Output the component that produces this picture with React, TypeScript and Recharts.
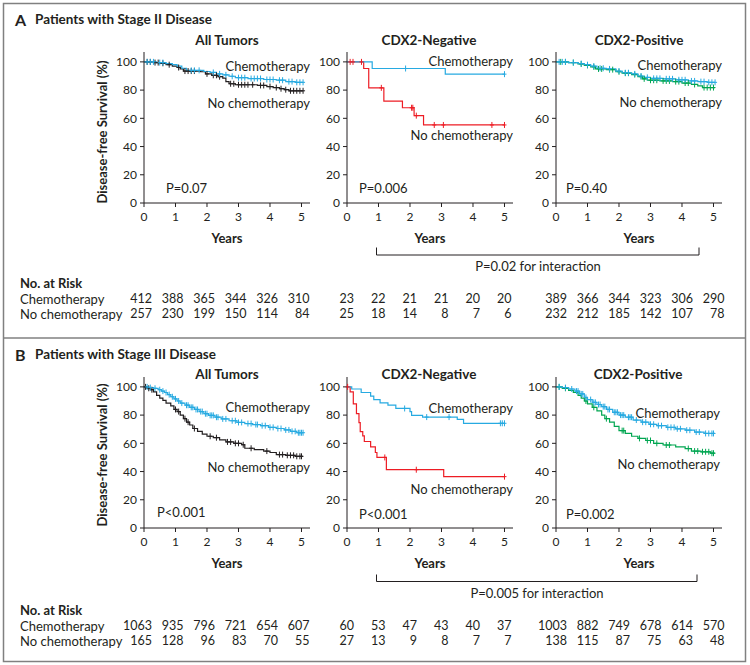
import React from 'react';
import { ComposedChart, Line, Scatter, XAxis, YAxis } from 'recharts';

type Pt = [number, number];

const yearTicks = [0, 1, 2, 3, 4, 5];
const survTicks = [0, 20, 40, 60, 80, 100];

// ---------- Stage II ----------
const a2AllChemo: Pt[] = [[0, 100], [0.4, 99.5], [0.7, 98.8], [0.9, 98], [1.05, 97], [1.2, 95.5], [1.35, 94], [1.9, 93.2], [2.1, 92.5], [2.3, 91.5], [2.5, 90.8], [2.7, 89.8], [2.9, 88.8], [3.3, 88.2], [3.8, 87.5], [4.2, 87], [4.5, 86], [4.8, 85.5], [5.05, 85.5]];
const a2AllChemoCens: Pt[] = [[0.1, 100], [0.2, 100], [0.3, 100], [0.5, 99.5], [0.6, 99.5], [1.5, 94], [1.6, 94], [1.75, 94], [2.2, 92.5], [2.4, 91.5], [2.6, 90.8], [2.8, 89.8], [3.0, 88.8], [3.1, 88.8], [3.2, 88.8], [3.4, 88.2], [3.5, 88.2], [3.6, 88.2], [3.7, 88.2], [3.9, 87.5], [4.0, 87.5], [4.1, 87.5], [4.3, 87], [4.4, 87], [4.6, 86], [4.7, 86], [4.85, 85.5], [4.95, 85.5], [5.05, 85.5]];
const a2AllNone: Pt[] = [[0, 100], [0.3, 99.5], [0.5, 99], [0.7, 98], [0.9, 97], [1.05, 96], [1.15, 95], [1.25, 93.5], [1.8, 93], [1.95, 91.5], [2.15, 90.5], [2.35, 89.5], [2.5, 88.5], [2.6, 86], [2.7, 84.5], [2.9, 83.8], [3.6, 83.3], [3.9, 82.5], [4.1, 81.8], [4.3, 81], [4.45, 80.3], [4.6, 79.5], [5.05, 79.5]];
const a2AllNoneCens: Pt[] = [[0.1, 100], [0.2, 100], [0.35, 99.5], [0.45, 99.5], [0.6, 99], [0.8, 98], [1.1, 96], [1.3, 93.5], [1.4, 93.5], [1.5, 93.5], [1.6, 93.5], [2.0, 91.5], [2.2, 90.5], [2.3, 90.5], [2.4, 89.5], [2.75, 84.5], [2.85, 84.5], [3.0, 83.8], [3.1, 83.8], [3.2, 83.8], [3.3, 83.8], [3.45, 83.8], [3.7, 83.3], [3.8, 83.3], [4.0, 82.5], [4.2, 81.8], [4.35, 81], [4.5, 80.3], [4.65, 79.5], [4.75, 79.5], [4.85, 79.5], [4.95, 79.5], [5.05, 79.5]];

const a2NegChemo: Pt[] = [[0, 100], [0.8, 95.3], [3.12, 91.3], [5, 91.3]];
const a2NegChemoCens: Pt[] = [[1.86, 95.3], [5, 91.3]];
const a2NegNone: Pt[] = [[0, 100], [0.53, 95.3], [0.69, 81.6], [1.17, 72.2], [1.76, 67.5], [2.13, 61.9], [2.43, 55.3], [5, 55.3]];
const a2NegNoneCens: Pt[] = [[0.1, 100], [0.19, 100], [0.46, 100], [1.09, 81.6], [2.05, 67.5], [2.09, 67.5], [2.2, 61.9], [2.77, 55.3], [3.06, 55.3], [4.6, 55.3], [5, 55.3]];

const a2PosChemo: Pt[] = [[0, 100], [0.4, 99.5], [0.7, 98.8], [0.9, 98], [1.1, 97], [1.3, 95.5], [1.6, 95], [1.9, 93.5], [2.1, 92.3], [2.4, 91.5], [2.6, 90], [2.8, 89], [3.0, 88.3], [3.4, 88], [3.8, 87.3], [4.2, 86.5], [4.5, 86], [4.8, 85.5], [5.05, 85.5]];
const a2PosChemoCens: Pt[] = [[0.1, 100], [0.2, 100], [0.3, 100], [0.55, 99.5], [0.8, 98.8], [1.0, 98], [1.2, 97], [1.4, 95.5], [1.5, 95.5], [1.7, 95], [2.0, 93.5], [2.2, 92.3], [2.3, 92.3], [2.5, 91.5], [2.7, 90], [2.9, 89], [3.1, 88.3], [3.2, 88.3], [3.3, 88.3], [3.5, 88], [3.6, 88], [3.7, 88], [3.9, 87.3], [4.0, 87.3], [4.1, 87.3], [4.3, 86.5], [4.4, 86.5], [4.6, 86], [4.7, 86], [4.85, 85.5], [4.95, 85.5], [5.05, 85.5]];
const a2PosNone: Pt[] = [[0, 100], [0.4, 99.5], [0.7, 98.5], [0.9, 97.5], [1.1, 96.5], [1.25, 95], [1.6, 94.5], [1.9, 93], [2.1, 92], [2.4, 91], [2.6, 89.5], [2.75, 88], [2.9, 87], [3.3, 86.5], [3.7, 86], [4.0, 85], [4.3, 84], [4.5, 83], [4.65, 81.8], [5.05, 81.8]];
const a2PosNoneCens: Pt[] = [[0.15, 100], [0.3, 100], [0.55, 99.5], [0.8, 98.5], [1.0, 97.5], [1.2, 96.5], [1.35, 95], [1.45, 95], [1.7, 94.5], [1.8, 94.5], [2.0, 93], [2.2, 92], [2.3, 92], [2.5, 91], [2.7, 89.5], [2.8, 88], [3.0, 87], [3.1, 87], [3.2, 87], [3.4, 86.5], [3.5, 86.5], [3.6, 86.5], [3.8, 86], [3.9, 86], [4.1, 85], [4.2, 85], [4.4, 84], [4.7, 81.8], [4.8, 81.8], [4.9, 81.8], [5.0, 81.8]];

const a2RiskAllChemo = [412, 388, 365, 344, 326, 310];
const a2RiskAllNone = [257, 230, 199, 150, 114, 84];
const a2RiskNegChemo = [23, 22, 21, 21, 20, 20];
const a2RiskNegNone = [25, 18, 14, 8, 7, 6];
const a2RiskPosChemo = [389, 366, 344, 323, 306, 290];
const a2RiskPosNone = [232, 212, 185, 142, 107, 78];

// ---------- Stage III ----------
const b3AllChemo: Pt[] = [[0, 100], [0.15, 99.5], [0.3, 99], [0.45, 98], [0.55, 97], [0.65, 96], [0.75, 94.5], [0.85, 93], [0.95, 91.5], [1.05, 90], [1.15, 88.5], [1.3, 87], [1.45, 85.5], [1.6, 84], [1.75, 82.5], [1.9, 81], [2.05, 79.8], [2.25, 78.5], [2.45, 77.3], [2.7, 76], [2.95, 74.8], [3.2, 74], [3.45, 73.3], [3.7, 72.5], [3.95, 71.3], [4.2, 70.5], [4.45, 69.5], [4.65, 68.5], [4.85, 67.5], [5.05, 67.5]];
const b3AllChemoCens: Pt[] = [[0.1, 100], [0.2, 99.5], [0.35, 99], [0.5, 98], [0.6, 97], [0.7, 96], [0.8, 94.5], [0.9, 93], [1.0, 91.5], [1.1, 90], [1.2, 88.5], [1.35, 87], [1.4, 87], [1.5, 85.5], [1.55, 85.5], [1.65, 84], [1.7, 84], [1.8, 82.5], [1.85, 82.5], [1.95, 81], [2.0, 81], [2.1, 79.8], [2.15, 79.8], [2.2, 79.8], [2.3, 78.5], [2.35, 78.5], [2.5, 77.3], [2.6, 77.3], [2.8, 76], [2.9, 76], [3.0, 74.8], [3.1, 74.8], [3.3, 74], [3.4, 74], [3.55, 73.3], [3.6, 73.3], [3.75, 72.5], [3.85, 72.5], [4.0, 71.3], [4.1, 71.3], [4.25, 70.5], [4.35, 70.5], [4.5, 69.5], [4.6, 69.5], [4.7, 68.5], [4.8, 68.5], [4.9, 67.5], [4.95, 67.5], [5.0, 67.5], [5.05, 67.5]];
const b3AllNone: Pt[] = [[0, 100], [0.1, 99], [0.2, 98], [0.3, 96.5], [0.4, 94], [0.5, 92], [0.6, 90.5], [0.7, 88.5], [0.85, 86.5], [0.95, 84], [1.05, 82.5], [1.15, 80], [1.25, 77.5], [1.35, 75], [1.45, 73], [1.55, 70.5], [1.7, 68.5], [1.85, 66.5], [2.0, 65], [2.2, 64], [2.4, 62.5], [2.6, 61], [2.85, 60], [3.1, 59], [3.2, 56.5], [3.5, 55.5], [3.8, 54.5], [4.0, 53.5], [4.2, 52], [4.5, 51.5], [4.8, 50.8], [5.05, 50.8]];
const b3AllNoneCens: Pt[] = [[0.05, 100], [0.15, 99], [0.25, 98], [1.0, 84], [1.1, 82.5], [1.3, 77.5], [1.4, 75], [1.6, 70.5], [2.1, 65], [2.3, 64], [2.65, 61], [2.75, 61], [2.9, 60], [3.0, 60], [3.15, 59], [3.4, 56.5], [3.9, 54.5], [4.3, 52], [4.4, 52], [4.55, 51.5], [4.65, 51.5], [4.75, 51.5], [4.85, 50.8], [4.95, 50.8], [5.0, 50.8]];

const b3NegChemo: Pt[] = [[0, 100], [0.15, 98.5], [0.45, 96], [0.75, 93.5], [0.85, 91], [1.05, 88.7], [1.3, 87], [1.55, 84.7], [2.0, 82.4], [2.05, 79.8], [2.4, 78.6], [3.5, 77], [3.7, 74.2], [5, 74.2]];
const b3NegChemoCens: Pt[] = [[1.83, 84.7], [2.53, 78.6], [3.24, 78.6], [4.87, 74.2], [4.93, 74.2], [5.0, 74.2]];
const b3NegNone: Pt[] = [[0, 100], [0.1, 96.5], [0.2, 88], [0.3, 81], [0.38, 74.6], [0.42, 68.3], [0.5, 65.3], [0.55, 61.3], [0.75, 57.5], [0.9, 53.5], [0.95, 50], [1.25, 41.3], [3.07, 36.4], [5, 36.4]];
const b3NegNoneCens: Pt[] = [[0.02, 100], [1.2, 50], [2.2, 41.3], [5, 36.4]];

const b3PosChemo: Pt[] = [[0, 100], [0.2, 99.5], [0.4, 98.5], [0.6, 97], [0.75, 95], [0.9, 92.5], [1.0, 91], [1.15, 89], [1.3, 87.5], [1.45, 86], [1.6, 84], [1.8, 82], [2.0, 80], [2.2, 78.5], [2.45, 76.5], [2.7, 75], [2.95, 73.5], [3.2, 72.5], [3.5, 71.3], [3.8, 70.3], [4.1, 69.3], [4.4, 68], [4.7, 67], [5.05, 67]];
const b3PosChemoCens: Pt[] = [[0.1, 100], [0.3, 99.5], [0.5, 98.5], [0.65, 97], [0.7, 97], [0.8, 95], [0.85, 95], [0.95, 92.5], [1.1, 91], [1.2, 89], [1.25, 89], [1.35, 87.5], [1.4, 87.5], [1.5, 86], [1.55, 86], [1.65, 84], [1.7, 84], [1.85, 82], [1.9, 82], [1.95, 82], [2.05, 80], [2.1, 80], [2.15, 80], [2.3, 78.5], [2.35, 78.5], [2.4, 78.5], [2.55, 76.5], [2.75, 75], [2.85, 75], [3.0, 73.5], [3.1, 73.5], [3.25, 72.5], [3.35, 72.5], [3.55, 71.3], [3.65, 71.3], [3.75, 71.3], [3.85, 70.3], [3.95, 70.3], [4.15, 69.3], [4.25, 69.3], [4.45, 68], [4.55, 68], [4.75, 67], [4.85, 67], [4.95, 67], [5.0, 67]];
const b3PosNone: Pt[] = [[0, 100], [0.2, 99], [0.4, 97.5], [0.55, 96], [0.7, 94], [0.8, 92], [0.9, 90], [1.0, 88], [1.15, 85.5], [1.3, 83], [1.45, 80], [1.55, 77.5], [1.7, 75], [1.85, 72], [2.0, 69], [2.2, 67], [2.4, 65], [2.6, 63.5], [2.85, 62], [3.1, 60], [3.4, 58.8], [3.8, 57.5], [4.1, 56.3], [4.3, 54.5], [4.6, 54], [4.9, 53], [5.05, 53]];
const b3PosNoneCens: Pt[] = [[0.1, 100], [0.3, 99], [0.95, 90], [1.2, 85.5], [1.6, 77.5], [2.1, 69], [2.15, 69], [2.65, 63.5], [2.9, 62], [3.0, 62], [3.2, 60], [3.5, 58.8], [3.6, 58.8], [4.2, 56.3], [4.4, 54.5], [4.5, 54.5], [4.65, 54], [4.75, 54], [4.85, 54], [4.95, 53], [5.0, 53]];

const b3RiskAllChemo = [1063, 935, 796, 721, 654, 607];
const b3RiskAllNone = [165, 128, 96, 83, 70, 55];
const b3RiskNegChemo = [60, 53, 47, 43, 40, 37];
const b3RiskNegNone = [27, 13, 9, 8, 7, 7];
const b3RiskPosChemo = [1003, 882, 749, 678, 614, 570];
const b3RiskPosNone = [138, 115, 87, 75, 63, 48];

const BLUE = '#27aae1';
const BLACK = '#231f20';
const RED = '#ed1c24';
const GREEN = '#00a651';
const FONT = 'Lato, "Noto Sans", sans-serif';
const NUM_FONT = '"Liberation Sans Narrow", Lato, sans-serif';

const PLOT_W = 166;
const PLOT_H = 151;
const PAD_L = 40;
const PAD_T = 8;
const colX = [144, 347, 556];
const riskDx = [8, 7, 11];

const toRows = (pts: Pt[]) => pts.map(([t, s]) => ({ t, s }));

function censorShape(color: string) {
  return (p: any) => (
    <path
      d={`M${p.cx},${p.cy - 3}V${p.cy + 3}M${p.cx - 2},${p.cy}H${p.cx + 2}`}
      stroke={color}
      strokeWidth={1}
      fill="none"
    />
  );
}

type KMProps = {
  col: number;
  plotTop: number;
  chemo: Pt[];
  chemoCens: Pt[];
  none: Pt[];
  noneCens: Pt[];
  noneColor: string;
  riskChemo: number[];
  riskNone: number[];
  rowDy: [number, number];
};

function KMPlot({ col, plotTop, chemo, chemoCens, none, noneCens, noneColor, riskChemo, riskNone, rowDy }: KMProps) {
  const dx = riskDx[col];
  const tick = (props: any) => {
    const { x, y, payload } = props;
    const i = yearTicks.indexOf(payload.value);
    return (
      <g>
        <text x={x} y={y} dy="0.71em" textAnchor="middle" fontSize={12} fill={BLACK} fontFamily={FONT}>
          {payload.value}
        </text>
        <text x={x + dx} y={y + rowDy[0]} dy="0.35em" textAnchor="end" fontSize={12.5} fill={BLACK} fontFamily={NUM_FONT}>
          {riskChemo[i]}
        </text>
        <text x={x + dx} y={y + rowDy[1]} dy="0.35em" textAnchor="end" fontSize={12.5} fill={BLACK} fontFamily={NUM_FONT}>
          {riskNone[i]}
        </text>
      </g>
    );
  };
  return (
    <div style={{ position: 'absolute', left: colX[col] - PAD_L, top: plotTop - PAD_T }}>
      <ComposedChart width={PAD_L + PLOT_W + 30} height={PAD_T + PLOT_H + 20 + 100} margin={{ top: PAD_T, right: 30, left: 4, bottom: 100 }}>
        <XAxis
          type="number"
          dataKey="t"
          domain={[0, 5.27]}
          ticks={yearTicks}
          interval={0}
          height={20}
          tickSize={4}
          tickMargin={5}
          stroke={BLACK}
          tick={tick}
        />
        <YAxis
          type="number"
          dataKey="s"
          domain={[0, 107]}
          ticks={survTicks}
          width={36}
          tickSize={4}
          tickMargin={3}
          stroke={BLACK}
          tick={{ fontSize: 12, fill: BLACK, fontFamily: FONT }}
        />
        <Line data={toRows(none)} dataKey="s" type="stepAfter" stroke={noneColor} strokeWidth={1.2} dot={false} isAnimationActive={false} />
        <Scatter data={toRows(noneCens)} dataKey="s" shape={censorShape(noneColor)} isAnimationActive={false} />
        <Line data={toRows(chemo)} dataKey="s" type="stepAfter" stroke={BLUE} strokeWidth={1.2} dot={false} isAnimationActive={false} />
        <Scatter data={toRows(chemoCens)} dataKey="s" shape={censorShape(BLUE)} isAnimationActive={false} />
      </ComposedChart>
    </div>
  );
}

const T = (p: any) => <text fontFamily={FONT} fill={BLACK} dominantBaseline="central" {...p} />;

export default function App() {
  const aTop = 52;
  const bTop = 377;
  return (
    <div style={{ position: 'absolute', left: 0, top: 0, width: 750, height: 665, background: '#fff', fontFamily: FONT }}>
      <KMPlot col={0} plotTop={aTop} chemo={a2AllChemo} chemoCens={a2AllChemoCens} none={a2AllNone} noneCens={a2AllNoneCens} noneColor={BLACK} riskChemo={a2RiskAllChemo} riskNone={a2RiskAllNone} rowDy={[87, 102]} />
      <KMPlot col={1} plotTop={aTop} chemo={a2NegChemo} chemoCens={a2NegChemoCens} none={a2NegNone} noneCens={a2NegNoneCens} noneColor={RED} riskChemo={a2RiskNegChemo} riskNone={a2RiskNegNone} rowDy={[87, 102]} />
      <KMPlot col={2} plotTop={aTop} chemo={a2PosChemo} chemoCens={a2PosChemoCens} none={a2PosNone} noneCens={a2PosNoneCens} noneColor={GREEN} riskChemo={a2RiskPosChemo} riskNone={a2RiskPosNone} rowDy={[87, 102]} />
      <KMPlot col={0} plotTop={bTop} chemo={b3AllChemo} chemoCens={b3AllChemoCens} none={b3AllNone} noneCens={b3AllNoneCens} noneColor={BLACK} riskChemo={b3RiskAllChemo} riskNone={b3RiskAllNone} rowDy={[89, 104]} />
      <KMPlot col={1} plotTop={bTop} chemo={b3NegChemo} chemoCens={b3NegChemoCens} none={b3NegNone} noneCens={b3NegNoneCens} noneColor={RED} riskChemo={b3RiskNegChemo} riskNone={b3RiskNegNone} rowDy={[89, 104]} />
      <KMPlot col={2} plotTop={bTop} chemo={b3PosChemo} chemoCens={b3PosChemoCens} none={b3PosNone} noneCens={b3PosNoneCens} noneColor={GREEN} riskChemo={b3RiskPosChemo} riskNone={b3RiskPosNone} rowDy={[89, 104]} />

      <svg width={750} height={665} style={{ position: 'absolute', left: 0, top: 0, pointerEvents: 'none' }}>
        <rect x={3.5} y={3.5} width={742} height={658} fill="none" stroke="#808080" strokeWidth={1.5} />
        <line x1={3.5} x2={745.5} y1={338} y2={338} stroke="#808080" strokeWidth={1.5} />

        {/* Panel A */}
        <T x={15} y={19} fontSize={16} fontWeight={700}>A</T>
        <T x={35} y={19} fontSize={13.5} fontWeight={700}>Patients with Stage II Disease</T>
        <T x={227} y={40} fontSize={13.5} fontWeight={700} textAnchor="middle">All Tumors</T>
        <T x={429} y={40} fontSize={13.5} fontWeight={700} textAnchor="middle">CDX2-Negative</T>
        <T x={639} y={40} fontSize={13.5} fontWeight={700} textAnchor="middle">CDX2-Positive</T>
        <T x={102} y={132} fontSize={13} fontWeight={700} textAnchor="middle" transform="rotate(-90 102 132)">Disease-free Survival (%)</T>
        <T x={310} y={66} fontSize={13} textAnchor="end">Chemotherapy</T>
        <T x={310} y={103} fontSize={13} textAnchor="end">No chemotherapy</T>
        <T x={513} y={61} fontSize={13} textAnchor="end">Chemotherapy</T>
        <T x={513} y={135} fontSize={13} textAnchor="end">No chemotherapy</T>
        <T x={722} y={65} fontSize={13} textAnchor="end">Chemotherapy</T>
        <T x={722} y={102} fontSize={13} textAnchor="end">No chemotherapy</T>
        <T x={166} y={188} fontSize={13}>P=0.07</T>
        <T x={359} y={188} fontSize={13}>P=0.006</T>
        <T x={566} y={188} fontSize={13}>P=0.40</T>
        <T x={227} y={238} fontSize={13} fontWeight={700} textAnchor="middle">Years</T>
        <T x={430} y={238} fontSize={13} fontWeight={700} textAnchor="middle">Years</T>
        <T x={639} y={238} fontSize={13} fontWeight={700} textAnchor="middle">Years</T>
        <path d="M376.5,247.5V255H699V247.5" fill="none" stroke={BLACK} strokeWidth={1} />
        <T x={538} y={266} fontSize={13} textAnchor="middle">P=0.02 for interaction</T>
        <T x={20} y={283} fontSize={13} fontWeight={700}>No. at Risk</T>
        <T x={20} y={299} fontSize={13}>Chemotherapy</T>
        <T x={20} y={314} fontSize={13}>No chemotherapy</T>

        {/* Panel B */}
        <T x={15} y={354} fontSize={16} fontWeight={700}>B</T>
        <T x={35} y={354} fontSize={13.5} fontWeight={700}>Patients with Stage III Disease</T>
        <T x={227} y={374} fontSize={13.5} fontWeight={700} textAnchor="middle">All Tumors</T>
        <T x={429} y={374} fontSize={13.5} fontWeight={700} textAnchor="middle">CDX2-Negative</T>
        <T x={638} y={374} fontSize={13.5} fontWeight={700} textAnchor="middle">CDX2-Positive</T>
        <T x={102} y={455} fontSize={13} fontWeight={700} textAnchor="middle" transform="rotate(-90 102 455)">Disease-free Survival (%)</T>
        <T x={310} y={407} fontSize={13} textAnchor="end">Chemotherapy</T>
        <T x={310} y={467} fontSize={13} textAnchor="end">No chemotherapy</T>
        <T x={513} y={408} fontSize={13} textAnchor="end">Chemotherapy</T>
        <T x={513} y={489} fontSize={13} textAnchor="end">No chemotherapy</T>
        <T x={720} y={413} fontSize={13} textAnchor="end">Chemotherapy</T>
        <T x={720} y={464} fontSize={13} textAnchor="end">No chemotherapy</T>
        <T x={157} y={512} fontSize={13}>P&lt;0.001</T>
        <T x={359} y={514} fontSize={13}>P&lt;0.001</T>
        <T x={566} y={514} fontSize={13}>P=0.002</T>
        <T x={227} y={563} fontSize={13} fontWeight={700} textAnchor="middle">Years</T>
        <T x={430} y={563} fontSize={13} fontWeight={700} textAnchor="middle">Years</T>
        <T x={639} y={563} fontSize={13} fontWeight={700} textAnchor="middle">Years</T>
        <path d="M376.5,574.5V581.5H697V574.5" fill="none" stroke={BLACK} strokeWidth={1} />
        <T x={537} y={593} fontSize={13} textAnchor="middle">P=0.005 for interaction</T>
        <T x={20} y={610} fontSize={13} fontWeight={700}>No. at Risk</T>
        <T x={20} y={626} fontSize={13}>Chemotherapy</T>
        <T x={20} y={641} fontSize={13}>No chemotherapy</T>
      </svg>
    </div>
  );
}
